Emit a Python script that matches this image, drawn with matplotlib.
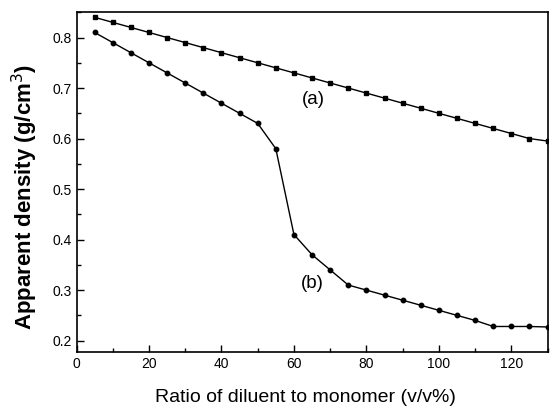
import matplotlib
matplotlib.use('Agg')
import matplotlib.pyplot as plt
from matplotlib.ticker import MultipleLocator

plt.rcParams['font.family'] = ['Liberation Sans', 'DejaVu Sans']

# ------------------ ДАННЫЕ ------------------
ratio_a = [5, 10, 15, 20, 25, 30, 35, 40, 45, 50, 55, 60, 65,
           70, 75, 80, 85, 90, 95, 100, 105, 110, 115, 120, 125, 130]
density_a = [0.84, 0.83, 0.82, 0.81, 0.80, 0.79, 0.78, 0.77, 0.76, 0.75,
             0.74, 0.73, 0.72, 0.71, 0.70, 0.69, 0.68, 0.67, 0.66, 0.65,
             0.64, 0.63, 0.62, 0.61, 0.60, 0.595]

ratio_b = [5, 10, 15, 20, 25, 30, 35, 40, 45, 50, 55, 60, 65,
           70, 75, 80, 85, 90, 95, 100, 105, 110, 115, 120, 125, 130]
density_b = [0.81, 0.79, 0.77, 0.75, 0.73, 0.71, 0.69, 0.67, 0.65, 0.63,
             0.58, 0.41, 0.37, 0.34, 0.31, 0.30, 0.29, 0.28, 0.27, 0.26,
             0.25, 0.24, 0.228, 0.228, 0.228, 0.227]

y_ticks = [0.2, 0.3, 0.4, 0.5, 0.6, 0.7, 0.8]

# ------------------ ГРАФИК ------------------
fig = plt.figure(figsize=(5.52, 4.09), dpi=100)
ax = fig.add_axes([0.1386, 0.140, 0.8534, 0.830])

ax.plot(ratio_a, density_a, color='black', lw=1.0,
        marker='s', markersize=3, clip_on=True)
ax.plot(ratio_b, density_b, color='black', lw=1.0,
        marker='o', markersize=3.2, clip_on=True)

ax.text(65.5, 0.677, '(a)', fontsize=13.5, ha='center', va='center')
ax.text(65, 0.313, '(b)', fontsize=13.5, ha='center', va='center')

ax.set_xlim(0, 130)
ax.set_ylim(0.178, 0.85)
ax.xaxis.set_major_locator(MultipleLocator(20))
ax.xaxis.set_minor_locator(MultipleLocator(10))
ax.yaxis.set_minor_locator(MultipleLocator(0.05))
ax.set_yticks(y_ticks)
ax.set_yticklabels([f'{v:.1f}' for v in y_ticks])
ax.tick_params(which='both', direction='in', labelsize=10)
ax.tick_params(which='major', length=5, width=1)
ax.tick_params(which='minor', length=3, width=1)

for s in ax.spines.values():
    s.set_linewidth(1.2)

ax.set_xlabel('Ratio of diluent to monomer (v/v%)', fontsize=14)
ax.xaxis.set_label_coords(0.485, -0.110)
ax.set_ylabel('Apparent density (g/cm$^3$)', fontsize=16, fontweight='bold')
ax.yaxis.set_label_coords(-0.0775, 0.456)

fig.savefig('out.png', dpi=100)
